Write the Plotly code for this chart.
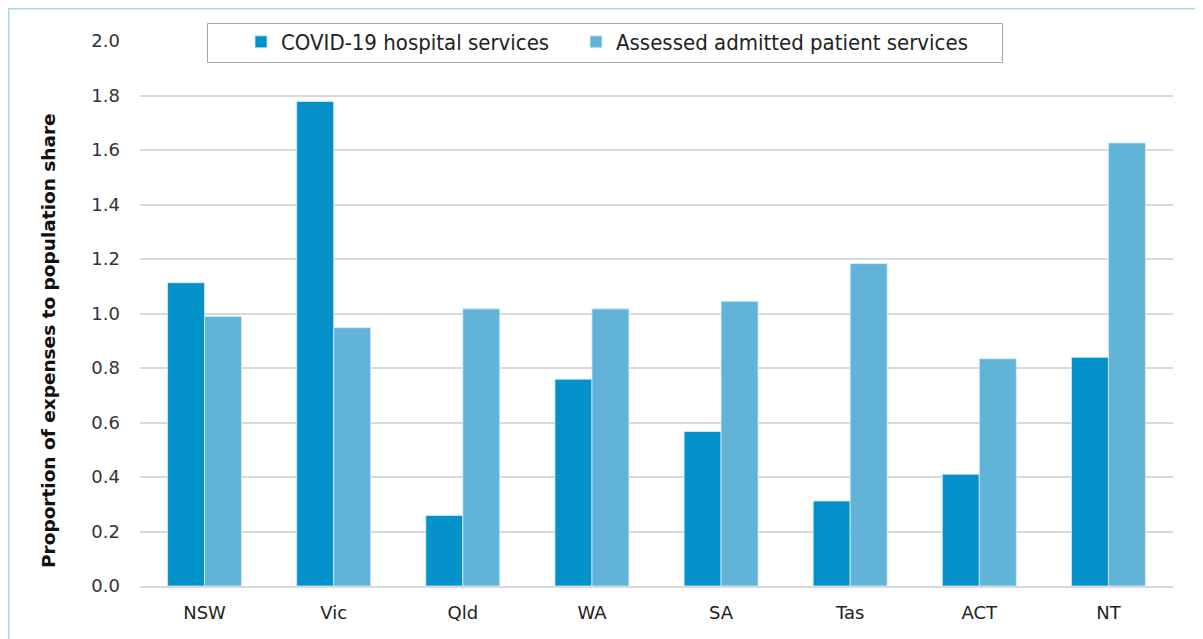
import plotly.graph_objects as go

states = ["NSW", "Vic", "Qld", "WA", "SA", "Tas", "ACT", "NT"]
covid = [1.113, 1.778, 0.259, 0.759, 0.567, 0.312, 0.410, 0.839]
assessed = [0.989, 0.948, 1.017, 1.017, 1.045, 1.183, 0.834, 1.626]
series_names = ["COVID-19 hospital services", "Assessed admitted patient services"]
y_ticks = [0.0, 0.2, 0.4, 0.6, 0.8, 1.0, 1.2, 1.4, 1.6, 1.8, 2.0]
y_title = "Proportion of expenses to population share"

dark = "#0391C9"
light = "#61B4D8"

fig = go.Figure()
fig.add_trace(go.Bar(x=states, y=covid, name=series_names[0],
                     marker=dict(color=dark, line=dict(color="#D6EEF8", width=0.8))))
fig.add_trace(go.Bar(x=states, y=assessed, name=series_names[1], legend="legend2",
                     marker=dict(color=light, line=dict(color="#D6EEF8", width=0.8))))

# the page body adds an 8px offset, so the figure is 8px smaller
OFF = 8
W, H = 1203 - OFF, 639 - OFF
L, R, T, B = 132, 30, 33, 53
pw = W - L - R
ph = H - T - B

def fx(page_x):
    return (page_x - OFF - L) / pw

def fy(page_y):
    return (H - B - (page_y - OFF)) / ph

legend_font = dict(family="Liberation Sans Narrow, DejaVu Sans Condensed, sans-serif", size=22, color="#222222")

def legend_at(page_x):
    return dict(orientation="h", x=fx(page_x), xanchor="left", y=fy(21), yanchor="top",
                bgcolor="rgba(0,0,0,0)", borderwidth=0, font=legend_font, itemwidth=30)

fig.update_layout(
    width=W, height=H,
    margin=dict(l=L, r=R, t=T, b=B, pad=0),
    plot_bgcolor="white", paper_bgcolor="white",
    barmode="group", bargap=0.427, bargroupgap=0,
    showlegend=True,
    font=dict(family="DejaVu Sans, sans-serif", color="#333333", size=17),
    legend=legend_at(241),
    legend2=legend_at(576),
    xaxis=dict(
        showgrid=False, showline=True, linecolor="#D9D9D9", linewidth=1.5,
        ticks="", tickfont=dict(family="DejaVu Sans, sans-serif", size=18, color="#222222"),
        ticklabelstandoff=10,
    ),
    yaxis=dict(
        range=[0, 2.0], tickvals=y_ticks, ticktext=[f"{v:.1f}" for v in y_ticks],
        showgrid=True, gridcolor="#D9D9D9", gridwidth=1.5,
        zeroline=False, showline=False, ticks="",
        tickfont=dict(family="DejaVu Sans, sans-serif", size=18, color="#333333"),
        ticklabelstandoff=19,
    ),
    annotations=[dict(text=f"<b>{y_title}</b>", textangle=-90,
                      xref="paper", yref="paper", x=fx(48), y=fy(341),
                      xanchor="center", yanchor="middle", showarrow=False,
                      font=dict(family="DejaVu Sans, sans-serif", size=18.5, color="#111111"))],
    shapes=[
        dict(type="rect", xref="paper", yref="paper",
             x0=fx(OFF + 0.75), x1=fx(1225), y0=fy(660), y1=fy(OFF + 0.75),
             line=dict(color="#A8D8EC", width=1.5), fillcolor="rgba(0,0,0,0)", layer="below"),
        dict(type="rect", xref="paper", yref="paper",
             x0=fx(207.5), x1=fx(1002.5), y0=fy(62.5), y1=fy(23.5),
             line=dict(color="#A6A6A6", width=1), fillcolor="white", layer="above"),
    ],
)

fig.write_html("out.html")
